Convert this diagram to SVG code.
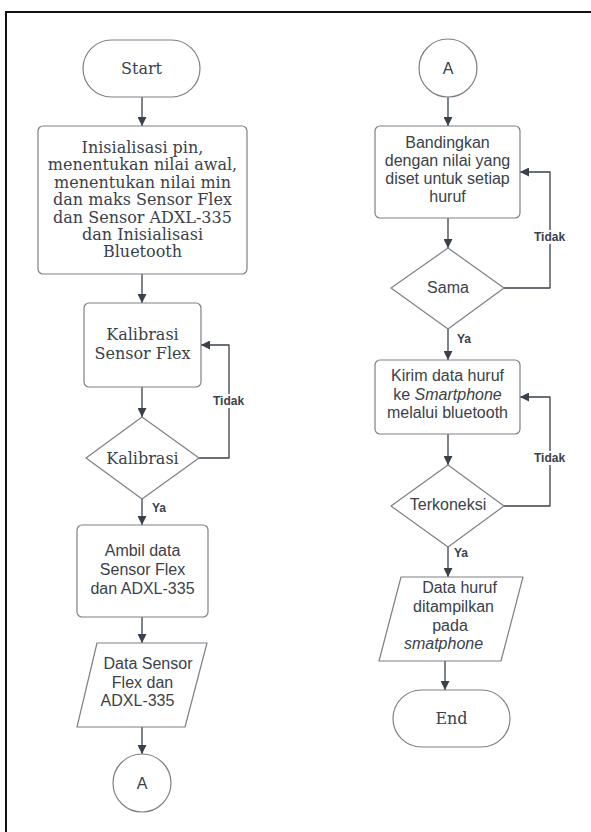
<svg xmlns="http://www.w3.org/2000/svg" width="591" height="832" viewBox="0 0 591 832">
<style>
.shape{fill:#fff;stroke:#7c8088;stroke-width:1.2;stroke-linejoin:round}
.serif{font-family:"DejaVu Serif","Liberation Serif",serif;font-size:16px;fill:#3a414a;text-anchor:middle}
.sans{font-family:"Liberation Sans",Arial,sans-serif;font-size:16px;fill:#3a414a;text-anchor:middle}
.conn{fill:none;stroke:#3a414a;stroke-width:1.3;stroke-linejoin:round}
.lbl{font-family:"Liberation Sans",Arial,sans-serif;font-size:12px;font-weight:bold;fill:#3a414a}
</style>
<defs>
<marker id="ah" viewBox="0 0 10 10" refX="10" refY="5" markerWidth="10" markerHeight="9" markerUnits="userSpaceOnUse" orient="auto">
<path d="M0,0 L10,5 L0,10 z" fill="#3a414a"/>
</marker>
</defs>
<rect x="0" y="0" width="591" height="832" fill="#fff"/>
<path d="M6,832 V12 H591" fill="none" stroke="#111" stroke-width="2"/>

<g id="connectors">
<path class="conn" d="M142,97 V126" marker-end="url(#ah)"/>
<path class="conn" d="M142,274 V303" marker-end="url(#ah)"/>
<path class="conn" d="M142,387 V417" marker-end="url(#ah)"/>
<path class="conn" d="M142,499 V525" marker-end="url(#ah)"/>
<path class="conn" d="M142,617 V643" marker-end="url(#ah)"/>
<path class="conn" d="M142,727 V754" marker-end="url(#ah)"/>
<path class="conn" d="M199,458 H229 V345 H201" marker-end="url(#ah)"/>
<path class="conn" d="M448,97 V126" marker-end="url(#ah)"/>
<path class="conn" d="M448,218 V248" marker-end="url(#ah)"/>
<path class="conn" d="M448,329 V360" marker-end="url(#ah)"/>
<path class="conn" d="M448,434 V465" marker-end="url(#ah)"/>
<path class="conn" d="M448,547 V577" marker-end="url(#ah)"/>
<path class="conn" d="M445,661 V690" marker-end="url(#ah)"/>
<path class="conn" d="M504,288 H550 V172 H520" marker-end="url(#ah)"/>
<path class="conn" d="M504,506 H550 V397 H520" marker-end="url(#ah)"/>
<rect x="212" y="394" width="36" height="14" fill="#fff"/>
<text class="lbl" x="213" y="405">Tidak</text>
<text class="lbl" x="152" y="512">Ya</text>
<rect x="533" y="230" width="35" height="14" fill="#fff"/>
<text class="lbl" x="534" y="241">Tidak</text>
<text class="lbl" x="457" y="343">Ya</text>
<rect x="533" y="451" width="35" height="14" fill="#fff"/>
<text class="lbl" x="534" y="462">Tidak</text>
<text class="lbl" x="454" y="557">Ya</text>
</g>

<g id="start">
<rect class="shape" x="83" y="40" width="117" height="57" rx="28.5"/>
<text class="serif" x="141.5" y="74">Start</text>
</g>

<g id="init">
<rect class="shape" x="38" y="126" width="209" height="148" rx="5"/>
<text class="serif" x="142.5" y="153">Inisialisasi pin,</text>
<text class="serif" x="142.5" y="170.4">menentukan nilai awal,</text>
<text class="serif" x="142.5" y="187.8">menentukan nilai min</text>
<text class="serif" x="142.5" y="205.2">dan maks Sensor Flex</text>
<text class="serif" x="142.5" y="222.6">dan Sensor ADXL-335</text>
<text class="serif" x="142.5" y="240">dan Inisialisasi</text>
<text class="serif" x="142.5" y="257.4">Bluetooth</text>
</g>

<g id="kalibrasi-box">
<rect class="shape" x="84" y="303" width="117" height="84" rx="5"/>
<text class="serif" x="142.5" y="340">Kalibrasi</text>
<text class="serif" x="142.5" y="358.5">Sensor Flex</text>
</g>

<g id="kalibrasi-decision">
<path class="shape" d="M142,417 L199,458 L142,499 L86,458 Z"/>
<text class="serif" x="142.5" y="463.5">Kalibrasi</text>
</g>

<g id="ambil-data">
<rect class="shape" x="77" y="525" width="131" height="92" rx="5"/>
<text class="sans" x="142.5" y="556">Ambil data</text>
<text class="sans" x="142.5" y="575">Sensor Flex</text>
<text class="sans" x="142.5" y="594">dan ADXL-335</text>
</g>

<g id="data-sensor">
<path class="shape" d="M97,643 L207,643 L185,727 L77,727 Z"/>
<text class="sans" x="148" y="669">Data Sensor</text>
<text class="sans" x="142.5" y="688">Flex dan</text>
<text class="sans" x="137.5" y="706">ADXL-335</text>
</g>

<g id="connector-a-left">
<circle class="shape" cx="142" cy="783" r="29"/>
<text class="sans" x="142" y="788.5">A</text>
</g>

<g id="connector-a-right">
<circle class="shape" cx="448" cy="68" r="29"/>
<text class="sans" x="448" y="73.5">A</text>
</g>

<g id="bandingkan">
<rect class="shape" x="375" y="126" width="145" height="92" rx="5"/>
<text class="sans" x="447.5" y="148">Bandingkan</text>
<text class="sans" x="447.5" y="166">dengan nilai yang</text>
<text class="sans" x="447.5" y="184">diset untuk setiap</text>
<text class="sans" x="447.5" y="202">huruf</text>
</g>

<g id="sama">
<path class="shape" d="M448,248 L504,288 L448,329 L391,288 Z"/>
<text class="sans" x="448" y="293">Sama</text>
</g>

<g id="kirim">
<rect class="shape" x="375" y="360" width="145" height="74" rx="5"/>
<text class="sans" x="447.5" y="381">Kirim data huruf</text>
<text class="sans" x="447.5" y="399.5">ke <tspan font-style="italic">Smartphone</tspan></text>
<text class="sans" x="447.5" y="418">melalui bluetooth</text>
</g>

<g id="terkoneksi">
<path class="shape" d="M448,465 L504,506 L448,547 L391,506 Z"/>
<text class="sans" x="448" y="509.5">Terkoneksi</text>
</g>

<g id="data-huruf">
<path class="shape" d="M401,577 L523,577 L501,661 L379,661 Z"/>
<text class="sans" x="459.5" y="593">Data huruf</text>
<text class="sans" x="453.5" y="612">ditampilkan</text>
<text class="sans" x="450" y="631">pada</text>
<text class="sans" x="443.5" y="649" font-style="italic">smatphone</text>
</g>

<g id="end">
<rect class="shape" x="393" y="690" width="117" height="57" rx="28.5"/>
<text class="serif" x="451.5" y="724">End</text>
</g>
</svg>
